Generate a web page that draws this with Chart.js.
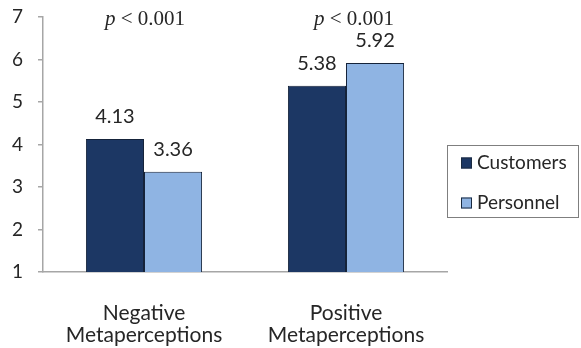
<!DOCTYPE html>
<html>
<head>
<meta charset="utf-8">
<script src="https://cdn.jsdelivr.net/npm/chart.js@4/dist/chart.umd.min.js"></script>
<style>
  html, body { margin: 0; padding: 0; background: #ffffff; }
  #wrap { width: 581px; height: 348px; position: relative; }
</style>
</head>
<body>
<div id="wrap"><canvas id="c" width="581" height="348"></canvas></div>
<script>
// Mean metaperception scores by group
const categories = [["Negative", "Metaperceptions"], ["Positive", "Metaperceptions"]];
const seriesNames = ["Customers", "Personnel"];
const customers = [4.13, 5.38];
const personnel = [3.36, 5.92];
const significance = ["< 0.001", "< 0.001"];
const yTicks = [1, 2, 3, 4, 5, 6, 7];

const COLORS = ["#1c3764", "#8fb4e3"];
const TEXT = "#262626";
const SANS = "Lato, 'Open Sans', sans-serif";
const SERIF = "'Liberation Serif', 'DejaVu Serif', serif";

// Value labels above each bar
const valueLabels = {
  id: "valueLabels",
  afterDatasetsDraw(chart) {
    const ctx = chart.ctx;
    ctx.save();
    ctx.font = "20px " + SANS;
    ctx.fillStyle = TEXT;
    ctx.textAlign = "center";
    ctx.textBaseline = "bottom";
    chart.data.datasets.forEach((ds, i) => {
      chart.getDatasetMeta(i).data.forEach((bar, j) => {
        ctx.fillText(ds.data[j].toFixed(2), bar.x, bar.y - 12);
      });
    });
    ctx.restore();
  }
};

// "p < 0.001" note above each category
const pNotes = {
  id: "pNotes",
  afterDraw(chart) {
    const ctx = chart.ctx;
    const xs = chart.scales.x;
    ctx.save();
    ctx.fillStyle = TEXT;
    ctx.textBaseline = "alphabetic";
    ctx.textAlign = "left";
    significance.forEach((txt, i) => {
      const cx = xs.getPixelForValue(i) + (i === 1 ? 8 : 1);
      ctx.font = "italic 21px " + SERIF;
      const pw = ctx.measureText("p").width;
      ctx.font = "21px " + SERIF;
      const rest = " " + txt;
      const rw = ctx.measureText(rest).width;
      const x0 = cx - (pw + rw) / 2;
      ctx.font = "italic 21px " + SERIF;
      ctx.fillText("p", x0, 25);
      ctx.font = "21px " + SERIF;
      ctx.fillText(rest, x0 + pw, 25);
    });
    ctx.restore();
  }
};

// Boxed legend to the right of the plot
const boxedLegend = {
  id: "boxedLegend",
  afterDraw(chart) {
    const ctx = chart.ctx;
    const bx = 447.5, by = 145.5, bw = 131, bh = 72;
    ctx.save();
    ctx.strokeStyle = "#7f7f7f";
    ctx.lineWidth = 1;
    ctx.strokeRect(bx, by, bw, bh);
    ctx.font = "19px " + SANS;
    ctx.textAlign = "left";
    ctx.textBaseline = "middle";
    chart.data.datasets.forEach((ds, i) => {
      const cy = 163 + i * 40;
      ctx.fillStyle = ds.backgroundColor;
      ctx.fillRect(461, cy - 5.5, 11, 11);
      ctx.strokeStyle = "#1a2a40";
      ctx.strokeRect(461.5, cy - 5, 10, 10);
      ctx.fillStyle = TEXT;
      ctx.fillText(ds.label, 477, cy);
    });
    ctx.restore();
  }
};

new Chart(document.getElementById("c"), {
  type: "bar",
  data: {
    labels: categories,
    datasets: [
      { label: seriesNames[0], data: customers, backgroundColor: COLORS[0], borderColor: "#15233a", borderWidth: 1 },
      { label: seriesNames[1], data: personnel, backgroundColor: COLORS[1], borderColor: "#15233a", borderWidth: 1 }
    ]
  },
  options: {
    responsive: false,
    animation: false,
    devicePixelRatio: 1,
    layout: { padding: { left: 0, right: 134, top: 17, bottom: 0 } },
    datasets: { bar: { categoryPercentage: 0.575, barPercentage: 1.0 } },
    plugins: { legend: { display: false }, tooltip: { enabled: false } },
    scales: {
      x: {
        grid: { display: false },
        border: { display: true, color: "#a6a6a6", width: 1.5 },
        ticks: { color: TEXT, font: { family: SANS, size: 21, lineHeight: 1.05 }, padding: 22, maxRotation: 0 },
        afterFit(s) { s.height = 76; s.paddingLeft = 0; s.paddingRight = 0; }
      },
      y: {
        min: 1,
        max: 7,
        afterBuildTicks(s) { s.ticks = yTicks.map(v => ({ value: v })); },
        grid: { display: true, drawOnChartArea: false, drawTicks: true, tickLength: 5, color: "#a6a6a6", lineWidth: 1.5 },
        border: { display: true, color: "#a6a6a6", width: 1.5 },
        ticks: { color: TEXT, font: { family: SANS, size: 19 }, padding: 15 },
        afterFit(s) { s.width = 43; s.paddingTop = 0; s.paddingBottom = 0; }
      }
    }
  },
  plugins: [valueLabels, pNotes, boxedLegend]
});
</script>
</body>
</html>
